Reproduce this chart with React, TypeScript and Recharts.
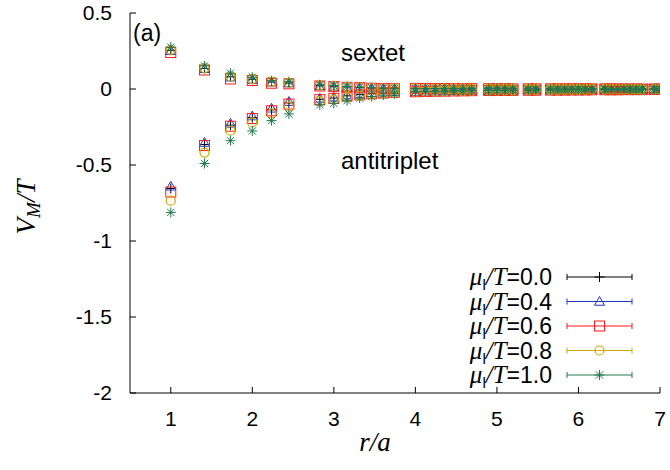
import { ScatterChart, Scatter, XAxis, YAxis, Customized } from "recharts";

// lattice separations r/a (sqrt of sums of three squares)
const rValues = [
  1, 1.414, 1.732, 2, 2.236, 2.449, 2.828, 3, 3.162, 3.317, 3.464, 3.606, 3.742,
  4, 4.123, 4.243, 4.359, 4.472, 4.583, 4.69, 4.899, 5, 5.099, 5.196, 5.385, 5.477,
  5.657, 5.745, 5.831, 5.916, 6, 6.083, 6.164, 6.325, 6.403, 6.481, 6.557, 6.633,
  6.708, 6.782, 6.928, 7,
];

const xTicks = [1, 2, 3, 4, 5, 6, 7];
const yTicks = [-2, -1.5, -1, -0.5, 0, 0.5];

// short-distance part (r < 4), one array per mu
const sextet00 = [0.255, 0.135, 0.08, 0.064, 0.046, 0.04, 0.022, 0.018, 0.013, 0.01, 0.006, 0.004, 0.003];
const sextet04 = [0.252, 0.133, 0.078, 0.062, 0.045, 0.039, 0.021, 0.017, 0.012, 0.009, 0.006, 0.004, 0.003];
const sextet06 = [0.24, 0.125, 0.066, 0.056, 0.038, 0.034, 0.02, 0.016, 0.011, 0.009, 0.005, 0.003, 0.002];
const sextet08 = [0.258, 0.138, 0.083, 0.065, 0.047, 0.04, 0.024, 0.019, 0.014, 0.011, 0.007, 0.005, 0.003];
const sextet10 = [0.276, 0.152, 0.104, 0.077, 0.055, 0.048, 0.028, 0.022, 0.016, 0.012, 0.008, 0.006, 0.004];

const anti00 = [-0.655, -0.365, -0.238, -0.188, -0.137, -0.092, -0.068, -0.06, -0.045, -0.036, -0.03, -0.025, -0.021];
const anti04 = [-0.64, -0.352, -0.226, -0.178, -0.127, -0.083, -0.061, -0.054, -0.04, -0.032, -0.026, -0.022, -0.018];
const anti06 = [-0.678, -0.372, -0.245, -0.194, -0.143, -0.099, -0.07, -0.062, -0.047, -0.038, -0.031, -0.026, -0.022];
const anti08 = [-0.735, -0.418, -0.274, -0.22, -0.16, -0.116, -0.08, -0.07, -0.053, -0.043, -0.035, -0.029, -0.024];
const anti10 = [-0.812, -0.49, -0.34, -0.276, -0.208, -0.164, -0.105, -0.094, -0.077, -0.06, -0.05, -0.04, -0.032];

// r >= 4: all mu values sit on top of each other
const tailSextet = [
  0.004, 0.003, 0.003, 0.003, 0.002, 0.002, 0.002, 0.002, 0.002, 0.002, 0.001, 0.001, 0.001, 0.001,
  0.001, 0.001, 0.001, 0.001, 0.001, 0.001, 0.001, 0.001, 0, 0, 0, 0, 0, 0, 0,
];
const tailAnti = [
  -0.018, -0.016, -0.015, -0.014, -0.013, -0.012, -0.011, -0.01, -0.01, -0.009, -0.009, -0.008, -0.008,
  -0.007, -0.007, -0.007, -0.006, -0.006, -0.006, -0.005, -0.005, -0.005, -0.005, -0.004, -0.004,
  -0.004, -0.004, -0.003, -0.003,
];

const muLabels = ["0.0", "0.4", "0.6", "0.8", "1.0"];
const colors = ["#000000", "#2233cc", "#ff1a1a", "#ccaa00", "#1f7a4a"];
const markerKinds = ["plus", "triangle", "square", "circle", "star"];
const sextets = [sextet00, sextet04, sextet06, sextet08, sextet10];
const antis = [anti00, anti04, anti06, anti08, anti10];

const series = muLabels.map((mu, i) => {
  const sx = sextets[i].concat(tailSextet);
  const an = antis[i].concat(tailAnti);
  const data = rValues
    .map((r, j) => ({ r, v: sx[j] }))
    .concat(rValues.map((r, j) => ({ r, v: an[j] })));
  return { mu, color: colors[i], kind: markerKinds[i], data };
});

const sans = "'Liberation Sans', Arial, Helvetica, sans-serif";
const serif = "'Liberation Serif', 'Times New Roman', serif";

const Marker = ({ kind, cx, cy, color }: any) => {
  const s = 5;
  if (cx == null || cy == null) return null;
  switch (kind) {
    case "plus":
      return (
        <g stroke={color} strokeWidth={1}>
          <line x1={cx - s} y1={cy} x2={cx + s} y2={cy} />
          <line x1={cx} y1={cy - s} x2={cx} y2={cy + s} />
        </g>
      );
    case "triangle":
      return (
        <polygon
          points={`${cx},${cy - s} ${cx - s},${cy + s * 0.75} ${cx + s},${cy + s * 0.75}`}
          fill="none"
          stroke={color}
          strokeWidth={1}
        />
      );
    case "square":
      return <rect x={cx - s} y={cy - s} width={2 * s} height={2 * s} fill="none" stroke={color} strokeWidth={1} />;
    case "circle":
      return <circle cx={cx} cy={cy} r={s - 0.5} fill="none" stroke={color} strokeWidth={1.2} />;
    default: {
      const d = s * 0.72;
      return (
        <g stroke={color} strokeWidth={1}>
          <line x1={cx - s} y1={cy} x2={cx + s} y2={cy} />
          <line x1={cx} y1={cy - s} x2={cx} y2={cy + s} />
          <line x1={cx - d} y1={cy - d} x2={cx + d} y2={cy + d} />
          <line x1={cx - d} y1={cy + d} x2={cx + d} y2={cy - d} />
        </g>
      );
    }
  }
};

const noTick = () => <g />;

const Annotations = () => {
  const legendTop = 277;
  const rowGap = 24.5;
  return (
    <g>
      <text x={133} y={41} fontFamily={sans} fontSize={23}>(a)</text>
      <text x={341} y={61} fontFamily={sans} fontSize={24}>sextet</text>
      <text x={341} y={169} fontFamily={sans} fontSize={24}>antitriplet</text>
      <text
        transform="translate(35,207) rotate(-90)"
        textAnchor="middle"
        fontFamily={serif}
        fontStyle="italic"
        fontSize={27}
      >
        V<tspan fontSize={19} dy={5}>M</tspan>
        <tspan dy={-5}>/T</tspan>
      </text>
      <text x={375} y={451} textAnchor="middle" fontFamily={serif} fontStyle="italic" fontSize={27}>
        r/a
      </text>
      {series.map((s, i) => {
        const y = legendTop + i * rowGap;
        return (
          <g key={s.mu}>
            <text x={552} y={y + 8} textAnchor="end" fontFamily={sans} fontSize={23}>
              <tspan fontFamily={serif} fontStyle="italic" fontSize={25}>μ</tspan>
              <tspan fontSize={15} dy={5}>l</tspan>
              <tspan dy={-5} fontFamily={serif} fontStyle="italic" fontSize={25}>/T</tspan>
              <tspan>={s.mu}</tspan>
            </text>
            <g stroke={s.color} strokeWidth={1}>
              <line x1={567} y1={y} x2={632} y2={y} />
              <line x1={567} y1={y - 3} x2={567} y2={y + 3} />
              <line x1={632} y1={y - 3} x2={632} y2={y + 3} />
            </g>
            <Marker kind={s.kind} cx={599.5} cy={y} color={s.color} />
          </g>
        );
      })}
    </g>
  );
};

export default function App() {
  const tickStyle = { fontFamily: sans, fontSize: 21, fill: "#000" };
  return (
    <div style={{ position: "absolute", left: 0, top: 0, width: 670, height: 470, background: "#fff" }}>
      <ScatterChart width={670} height={470} margin={{ top: 13, right: 10, bottom: 0, left: 0 }}>
        <XAxis
          type="number"
          dataKey="r"
          domain={[0.5, 7]}
          ticks={xTicks}
          allowDataOverflow
          height={77}
          tickSize={-6}
          tickMargin={24}
          axisLine={{ stroke: "#000" }}
          tickLine={{ stroke: "#000" }}
          tick={tickStyle}
        />
        <XAxis
          xAxisId="top"
          orientation="top"
          type="number"
          domain={[0.5, 7]}
          ticks={xTicks}
          allowDataOverflow
          height={0}
          tickSize={-6}
          axisLine={{ stroke: "#000" }}
          tickLine={{ stroke: "#000" }}
          tick={noTick}
        />
        <YAxis
          type="number"
          dataKey="v"
          domain={[-2, 0.5]}
          ticks={yTicks}
          allowDataOverflow
          width={130}
          tickSize={-6}
          tickMargin={24}
          axisLine={{ stroke: "#000" }}
          tickLine={{ stroke: "#000" }}
          tick={tickStyle}
          tickFormatter={(v: number) => String(v)}
        />
        <YAxis
          yAxisId="right"
          orientation="right"
          type="number"
          domain={[-2, 0.5]}
          ticks={yTicks}
          allowDataOverflow
          width={0}
          tickSize={-6}
          axisLine={{ stroke: "#000" }}
          tickLine={{ stroke: "#000" }}
          tick={noTick}
        />
        {series.map((s) => (
          <Scatter
            key={s.mu}
            name={s.mu}
            data={s.data}
            isAnimationActive={false}
            shape={(p: any) => <Marker kind={s.kind} cx={p.cx} cy={p.cy} color={s.color} />}
          />
        ))}
        <Customized component={Annotations} />
      </ScatterChart>
    </div>
  );
}
